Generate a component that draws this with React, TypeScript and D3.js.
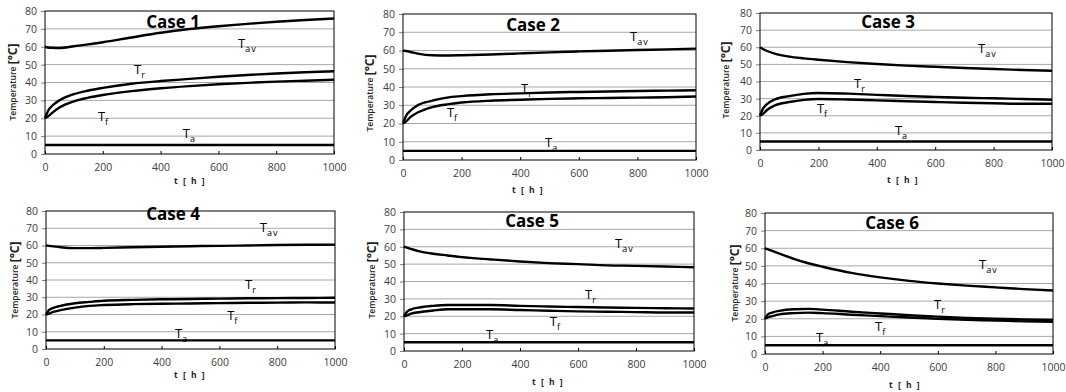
import React, { useRef, useEffect } from "react";
import * as d3 from "d3";

// time samples [h]
const hours = [0, 10, 25, 50, 100, 150, 200, 300, 400, 500, 600, 700, 800, 900, 1000];

const caseNames = ["Case 1", "Case 2", "Case 3", "Case 4", "Case 5", "Case 6"];

// T_av for each case
const tavSeries = [
  [60, 59.6, 59.4, 59.3, 60.3, 61.3, 62.5, 65.2, 67.8, 69.9, 71.5, 72.8, 74, 75, 75.8],
  [60, 59.7, 59.2, 58.3, 57.4, 57.3, 57.4, 57.8, 58.4, 59, 59.5, 59.9, 60.3, 60.6, 61],
  [60, 59, 57.8, 56.3, 54.5, 53.5, 52.7, 51.3, 50.2, 49.3, 48.6, 47.9, 47.3, 46.7, 46.3],
  [60, 59.8, 59.5, 59, 58.5, 58.5, 58.6, 59, 59.3, 59.6, 59.8, 60, 60.3, 60.4, 60.5],
  [60, 59.5, 58.7, 57.5, 56, 55, 54, 52.7, 51.5, 50.6, 50, 49.3, 49, 48.6, 48.2],
  [60, 59.4, 58.5, 57, 54, 51.5, 49.5, 46, 43.5, 41.5, 40, 38.8, 37.8, 36.8, 36],
];

// T_r for each case
const trSeries = [
  [20, 24, 27, 30, 33.5, 35.5, 37, 39.3, 40.8, 42, 43.2, 44.2, 45, 45.7, 46.3],
  [20, 24, 27, 30, 32.5, 34.2, 35, 36, 36.5, 37, 37.3, 37.5, 37.8, 38, 38.2],
  [20, 24, 27, 29.5, 31.5, 32.8, 33.3, 32.9, 32.2, 31.5, 31, 30.5, 30.2, 29.8, 29.3],
  [20, 22.5, 23.8, 25, 26.5, 27.3, 28, 28.5, 28.8, 29, 29.2, 29.4, 29.5, 29.6, 29.7],
  [20, 22.5, 24, 25, 26, 26.5, 26.5, 26.5, 26, 25.6, 25.3, 25, 24.8, 24.6, 24.5],
  [20, 22.5, 23.5, 24.5, 25.4, 25.6, 25.2, 24, 23, 22, 21.2, 20.5, 20, 19.6, 19.3],
];

// T_f for each case
const tfSeries = [
  [20, 21, 23, 26, 29.5, 31.5, 33, 35.2, 36.8, 38, 39, 39.8, 40.5, 41, 41.5],
  [20, 21, 23.5, 26, 29, 30.5, 31.5, 32.5, 33, 33.5, 33.8, 34, 34.2, 34.4, 34.8],
  [20, 21, 23.5, 26, 28, 29.3, 29.8, 29.5, 29, 28.5, 28, 27.6, 27.3, 27, 27],
  [20, 20.5, 21.5, 22.5, 24, 25, 25.5, 26, 26.2, 26.4, 26.6, 26.8, 26.9, 27, 27],
  [20, 20.5, 21.5, 22.3, 23.3, 24, 24, 24, 23.6, 23.2, 22.8, 22.6, 22.4, 22.2, 22.2],
  [20, 20.8, 21.5, 22.5, 23.2, 23.5, 23.2, 22.3, 21.5, 20.7, 20, 19.4, 19, 18.5, 18.2],
];

// T_a (ambient) for each case
const taSeries = [5, 5, 5, 5, 5, 5];

const xTicks = [0, 200, 400, 600, 800, 1000];
const yTicks = [0, 10, 20, 30, 40, 50, 60, 70, 80];

// label anchors in data units [t, T] : av, r, f, a
const labelAnchors = [
  [[668, 59.3], [308, 44.8], [183, 18.6], [477, 9]],
  [[775, 65.2], [403, 36.7], [150, 23.6], [485, 7.1]],
  [[747, 56.6], [322, 36.2], [195, 21.6], [462, 8.8]],
  [[740, 67.8], [689, 34.8], [627, 16.8], [446, 6.4]],
  [[728, 59.3], [624, 29.9], [503, 14.4], [283, 6.9]],
  [[743, 48.2], [587, 25.5], [382, 13], [177, 6.8]],
];
const labelSubs = ["av", "r", "f", "a"];

// plot rectangles [left, right, top, bottom]
const frames = [
  [45, 334, 11, 154],
  [403, 696, 14, 160],
  [760, 1052, 13, 150],
  [46, 335, 211, 349],
  [404, 694, 212, 351],
  [765, 1053, 213, 354],
];
// title centres, y-label x & centre, x-label offset
const titlePos = [[173, 28], [533, 31], [888, 28], [173, 220], [532, 227], [892, 229]];
const yLabelPos = [[14, 82], [371, 93], [727, 80], [16, 280], [373, 280], [736, 283]];
const xLabelPos = [[190, 184], [528, 193], [903, 183], [190, 378], [548, 385], [905, 388]];

const font = "'Open Sans', 'DejaVu Sans', sans-serif";

const App = () => {
  const svgRef = useRef<SVGSVGElement>(null);

  useEffect(() => {
    const svg = d3.select(svgRef.current);
    svg.selectAll("*").remove();

    caseNames.forEach((name, i) => {
      const [l, r, t, b] = frames[i];
      const x = d3.scaleLinear().domain([0, 1000]).range([l, r]);
      const y = d3.scaleLinear().domain([0, 80]).range([b, t]);
      const g = svg.append("g");

      // grid
      g.selectAll(".grid")
        .data(yTicks.filter((v) => v > 0 && v < 80))
        .enter()
        .append("line")
        .attr("x1", l)
        .attr("x2", r)
        .attr("y1", (d) => y(d))
        .attr("y2", (d) => y(d))
        .attr("stroke", "#a8a8a8")
        .attr("stroke-width", 1);

      // y axis
      const ya = g
        .append("g")
        .attr("transform", `translate(${l},0)`)
        .call(d3.axisLeft(y).tickValues(yTicks).tickSize(4).tickPadding(4));
      ya.select(".domain").remove();
      ya.selectAll("line").attr("stroke", "#808080");
      ya.selectAll("text")
        .attr("font-family", font)
        .attr("font-size", 10.5)
        .attr("fill", "#404040");

      // x axis
      const xa = g
        .append("g")
        .attr("transform", `translate(0,${b})`)
        .call(
          d3.axisBottom(x).tickValues(xTicks).tickSize(-3).tickPadding(10).tickFormat(d3.format("d"))
        );
      xa.select(".domain").remove();
      xa.selectAll("line").attr("stroke", "#000");
      xa.selectAll("text")
        .attr("font-family", font)
        .attr("font-size", 10.5)
        .attr("fill", "#404040");

      // frame
      g.append("rect")
        .attr("x", l)
        .attr("y", t)
        .attr("width", r - l)
        .attr("height", b - t)
        .attr("fill", "none")
        .attr("stroke", "#000")
        .attr("stroke-width", 1);

      const line = d3
        .line<number>()
        .x((d, k) => x(hours[k]))
        .y((d) => y(d))
        .curve(d3.curveMonotoneX);

      [tavSeries[i], trSeries[i], tfSeries[i], hours.map(() => taSeries[i])].forEach((s) => {
        g.append("path")
          .datum(s)
          .attr("d", line)
          .attr("fill", "none")
          .attr("stroke", "#000")
          .attr("stroke-width", 2.4);
      });

      // series labels
      labelAnchors[i].forEach(([ht, v], k) => {
        const txt = g
          .append("text")
          .attr("x", x(ht))
          .attr("y", y(v))
          .attr("font-family", font)
          .attr("font-size", 13)
          .attr("fill", "#000");
        txt.append("tspan").text("T");
        txt.append("tspan")
          .attr("font-size", 9)
          .attr("dy", 4)
          .attr("letter-spacing", k === 0 ? 1 : 0)
          .text(labelSubs[k]);
      });

      // title
      g.append("text")
        .attr("x", titlePos[i][0])
        .attr("y", titlePos[i][1])
        .attr("text-anchor", "middle")
        .attr("font-family", font)
        .attr("font-weight", "bold")
        .attr("font-size", 17)
        .text(name);

      // y label
      const yl = g
        .append("text")
        .attr("transform", `translate(${yLabelPos[i][0]},${yLabelPos[i][1]}) rotate(-90)`)
        .attr("text-anchor", "middle")
        .attr("dominant-baseline", "middle")
        .attr("font-family", font)
        .attr("font-weight", 600)
        .attr("font-size", 8.5)
        .attr("fill", "#222");
      yl.append("tspan").text("Temperature ");
      yl.append("tspan").attr("font-size", 12).attr("font-weight", "bold").text("[°C]");

      // x label
      g.append("text")
        .attr("x", xLabelPos[i][0])
        .attr("y", xLabelPos[i][1])
        .attr("text-anchor", "middle")
        .attr("font-family", font)
        .attr("font-weight", "bold")
        .attr("font-size", 8.5)
        .attr("letter-spacing", 1.5)
        .attr("fill", "#222")
        .text("t [ h ]");
    });
  }, []);

  return (
    <div style={{ position: "absolute", left: 0, top: 0, background: "#fff" }}>
      <svg ref={svgRef} width={1066} height={392} />
    </div>
  );
};

export default App;
